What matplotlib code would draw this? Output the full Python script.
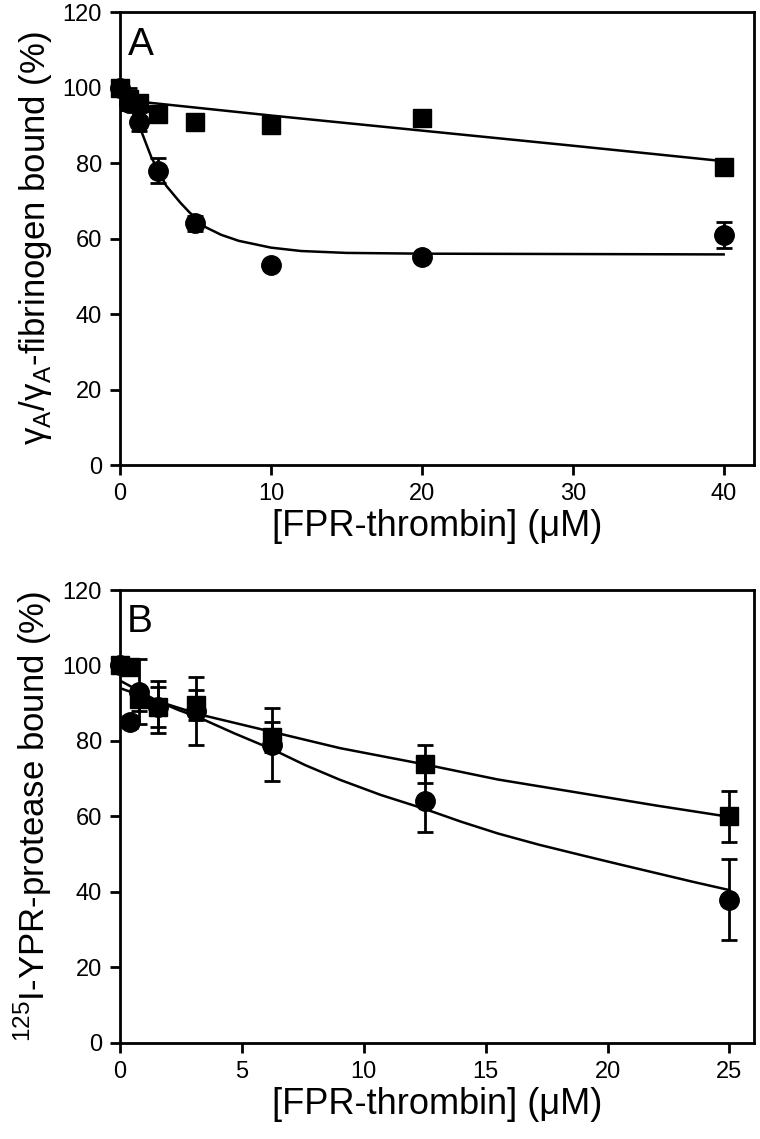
import matplotlib
matplotlib.use("Agg")
import matplotlib.pyplot as plt

plt.rcParams['font.family'] = ['Liberation Sans', 'DejaVu Sans']
plt.rcParams['mathtext.fontset'] = 'custom'
plt.rcParams['mathtext.rm'] = 'Liberation Sans'

### Panel A : gammaA/gammaA-fibrinogen bound
conc_a = [0, 0.625, 1.25, 2.5, 5, 10, 20, 40]
carres_a = [100, 97, 96, 93, 91, 90, 92, 79]
carres_a_err = [1.5, 3, 1, 1, 1, 1, 1, 1]
ronds_a = [100, 96, 91, 78, 64, 53, 55, 61]
ronds_a_err = [1.5, 2, 2.5, 3.3, 2, 1, 1, 3.5]

# courbes d'ajustement
fit_carres_a_x = [0, 10, 20, 30, 40]
fit_carres_a_y = [96.8, 92.6, 88.6, 84.6, 80.5]
fit_ronds_a_x = [0, 0.625, 1.31, 2.08, 3.06, 4, 4.59, 5.68, 6.7, 7.87, 10, 12, 15, 20, 30, 40]
fit_ronds_a_y = [100, 95, 89.5, 81.5, 74, 69.5, 67, 63, 61, 59.4, 57.6, 56.7, 56.2, 56, 55.9, 55.8]

### Panel B : 125I-YPR-protease bound
conc_b = [0, 0.39, 0.78, 1.56, 3.125, 6.25, 12.5, 25]
carres_b = [100, 99.5, 91, 89, 89.5, 81, 74, 60]
carres_b_err = [1, 2, 3, 5.3, 4, 4, 5, 6.7]
ronds_b = [100, 85, 93, 89, 88, 79, 64, 38]
ronds_b_err = [1, 1.5, 8.6, 6.9, 9, 9.7, 8, 10.8]

fit_carres_b_x = [0, 1.56, 3.28, 6.25, 9.03, 12.5, 15.5, 18.9, 22, 25]
fit_carres_b_y = [94, 90.5, 87, 82.4, 78.1, 73.8, 69.8, 66.2, 62.9, 59.9]
fit_ronds_b_x = [0, 0.8, 1.56, 2.4, 3.28, 4.7, 6.25, 7.6, 9.03, 10.7, 12.5, 14, 15.5, 17.2, 18.9, 20.5, 22, 23.5, 25]
fit_ronds_b_y = [96, 93.2, 90.5, 88.2, 86.1, 82, 77.8, 73.6, 69.7, 65.7, 62, 58.6, 55.5, 52.5, 49.8, 47.3, 45, 42.7, 40.5]

yticks = [0, 20, 40, 60, 80, 100, 120]

fig = plt.figure(figsize=(7.6, 11.39), dpi=100)
ax_a = fig.add_axes([0.1579, 0.5917, 0.834, 0.3977])
ax_b = fig.add_axes([0.1579, 0.0843, 0.834, 0.3977])


def tracer(ax, x, y_sq, e_sq, y_ci, e_ci, fsx, fsy, fcx, fcy):
    ax.plot(fsx, fsy, color='black', lw=1.8, zorder=2)
    ax.plot(fcx, fcy, color='black', lw=1.8, zorder=2)
    ax.errorbar(x, y_ci, yerr=e_ci, fmt='o', color='black', ms=14,
                ecolor='black', elinewidth=2, capsize=6, capthick=2,
                clip_on=False, zorder=3)
    ax.errorbar(x, y_sq, yerr=e_sq, fmt='s', color='black', ms=12.5,
                ecolor='black', elinewidth=2, capsize=6, capthick=2,
                clip_on=False, zorder=4)
    ax.set_ylim(0, 120)
    ax.set_yticks(yticks)
    for s in ax.spines.values():
        s.set_linewidth(2)
    ax.tick_params(direction='out', length=7, width=2, labelsize=17, pad=6,
                   top=False, right=False)


tracer(ax_a, conc_a, carres_a, carres_a_err, ronds_a, ronds_a_err,
       fit_carres_a_x, fit_carres_a_y, fit_ronds_a_x, fit_ronds_a_y)
ax_a.set_xlim(0, 42)
ax_a.set_xticks([0, 10, 20, 30, 40])
ax_a.set_xlabel('[FPR-thrombin] (\u03bcM)', fontsize=26, labelpad=3)
ax_a.set_ylabel('\u03b3$_\\mathregular{A}$/\u03b3$_\\mathregular{A}$-fibrinogen bound (%)',
                fontsize=25, labelpad=6)
ax_a.text(0.012, 0.905, 'A', transform=ax_a.transAxes, fontsize=28,
          ha='left', va='baseline')

tracer(ax_b, conc_b, carres_b, carres_b_err, ronds_b, ronds_b_err,
       fit_carres_b_x, fit_carres_b_y, fit_ronds_b_x, fit_ronds_b_y)
ax_b.set_xlim(0, 26)
ax_b.set_xticks([0, 5, 10, 15, 20, 25])
ax_b.set_xlabel('[FPR-thrombin] (\u03bcM)', fontsize=26, labelpad=3)
ax_b.set_ylabel('$^{\\mathregular{125}}$I-YPR-protease bound (%)',
                fontsize=25, labelpad=6)
ax_b.text(0.011, 0.907, 'B', transform=ax_b.transAxes, fontsize=28,
          ha='left', va='baseline')

fig.savefig('out.png', dpi=100)
